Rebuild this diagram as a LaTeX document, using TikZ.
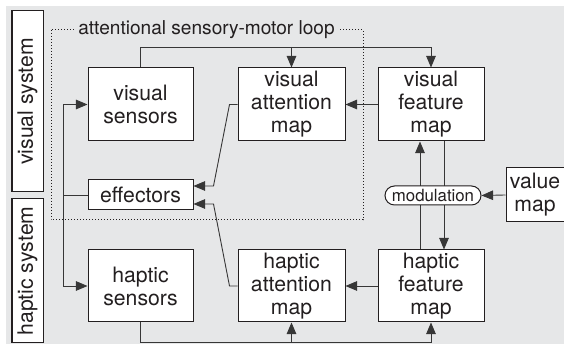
\documentclass[tikz,border=0pt]{standalone}
\usepackage{fontspec}
\setmainfont{TeX Gyre Heros}
\usetikzlibrary{arrows.meta,calc}
\definecolor{bggrey}{RGB}{230,231,232}
\definecolor{ink}{RGB}{35,31,32}
\definecolor{wire}{RGB}{55,55,55}
\begin{document}
\begin{tikzpicture}[x=0.5pt,y=-0.5pt,
  box/.style={draw=ink,line width=0.5pt,fill=white,inner sep=0pt,align=center,
    font=\fontsize{10.6}{11.5}\selectfont,text=ink},
  sysbox/.style={box,rotate=90},
  wirestyle/.style={draw=wire,line width=0.45pt},
  arr/.style={wirestyle,-{Triangle[length=5.8pt,width=4.8pt]}},
  modbox/.style={draw=ink,line width=0.5pt,fill=white,rounded corners=4.75pt,
    inner sep=0pt,minimum width=48pt,minimum height=9.5pt,
    font=\fontsize{8.4}{9}\selectfont,text=ink}
  ]
\useasboundingbox (0,0) rectangle (564,346);
\fill[bggrey] (6,6) rectangle (564,344);
% system labels
\node[sysbox,minimum width=90.5pt,minimum height=15.5pt] (vsys) at (27.5,101.5) {visual system};
\node[sysbox,minimum width=72pt,minimum height=15.5pt] (hsys) at (27.5,271) {haptic system};
% loop
\draw[ink,line width=0.5pt,dash pattern=on 0.5pt off 1pt] (51,30) rectangle (363,220);
\node[fill=bggrey,inner xsep=1.5pt,inner ysep=0pt,text=ink,font=\fontsize{9.55}{10}\selectfont] (loop) at (206.5,30) {attentional sensory-motor loop};
% boxes
\node[box,minimum width=52.5pt,minimum height=36.5pt] (vs) at (140.5,104.5) {visual\\sensors};
\node[box,minimum width=53.5pt,minimum height=36.5pt] (vam) at (291.5,104.5) {visual\\attention\\map};
\node[box,minimum width=53pt,minimum height=36.5pt] (vfm) at (431,104.5) {visual\\feature\\map};
\node[box,minimum width=52.5pt,minimum height=15pt] (eff) at (140.5,195) {effectors};
\node[box,minimum width=52.5pt,minimum height=36pt] (hs) at (140.5,286) {haptic\\sensors};
\node[box,minimum width=53.5pt,minimum height=36pt] (ham) at (291.5,286) {haptic\\attention\\map};
\node[box,minimum width=53pt,minimum height=36pt] (hfm) at (431,286) {haptic\\feature\\map};
\node[box,minimum width=29pt,minimum height=27pt] (val) at (535,195) {value\\map};
% helper coordinates
\coordinate (topy) at (0,47);
\coordinate (boty) at (0,342);
\coordinate (lx) at (63,0);
% top feed
\draw[arr] (vs.north) |- (vfm.north |- topy) -- (vfm.north);
\draw[arr] (vam.north |- topy) -- (vam.north);
% bottom feed
\draw[arr] (hs.south) |- (hfm.south |- boty) -- (hfm.south);
\draw[arr] (ham.south |- boty) -- (ham.south);
% effectors to sensors
\draw[wirestyle] (eff.west) -- (eff.west -| lx);
\draw[arr] (eff.west -| lx) |- (vs.west);
\draw[arr] (eff.west -| lx) |- (hs.west);
% attention maps to effectors
\draw[arr] (vam.west) -- ++(-8,0) -- ($(eff.east)+(20,-9)$) -- ($(eff.east)+(0,-9)$);
\draw[arr] (ham.west) -- ++(-8,0) -- ($(eff.east)+(20,9)$) -- ($(eff.east)+(0,9)$);
% feature maps to attention maps
\draw[arr] (vfm.west) -- (vam.east);
\draw[arr] (hfm.west) -- (ham.east);
% cross-modal links
\draw[arr] ($(hfm.north)+(-11,0)$) -- ($(vfm.south)+(-11,0)$);
\draw[arr] ($(vfm.south)+(13,0)$) -- ($(hfm.north)+(13,0)$);
% modulation
\node[modbox] (mod) at (433,195.5) {modulation};
\draw[arr] (val.west) -- (mod.east);
\end{tikzpicture}
\end{document}
